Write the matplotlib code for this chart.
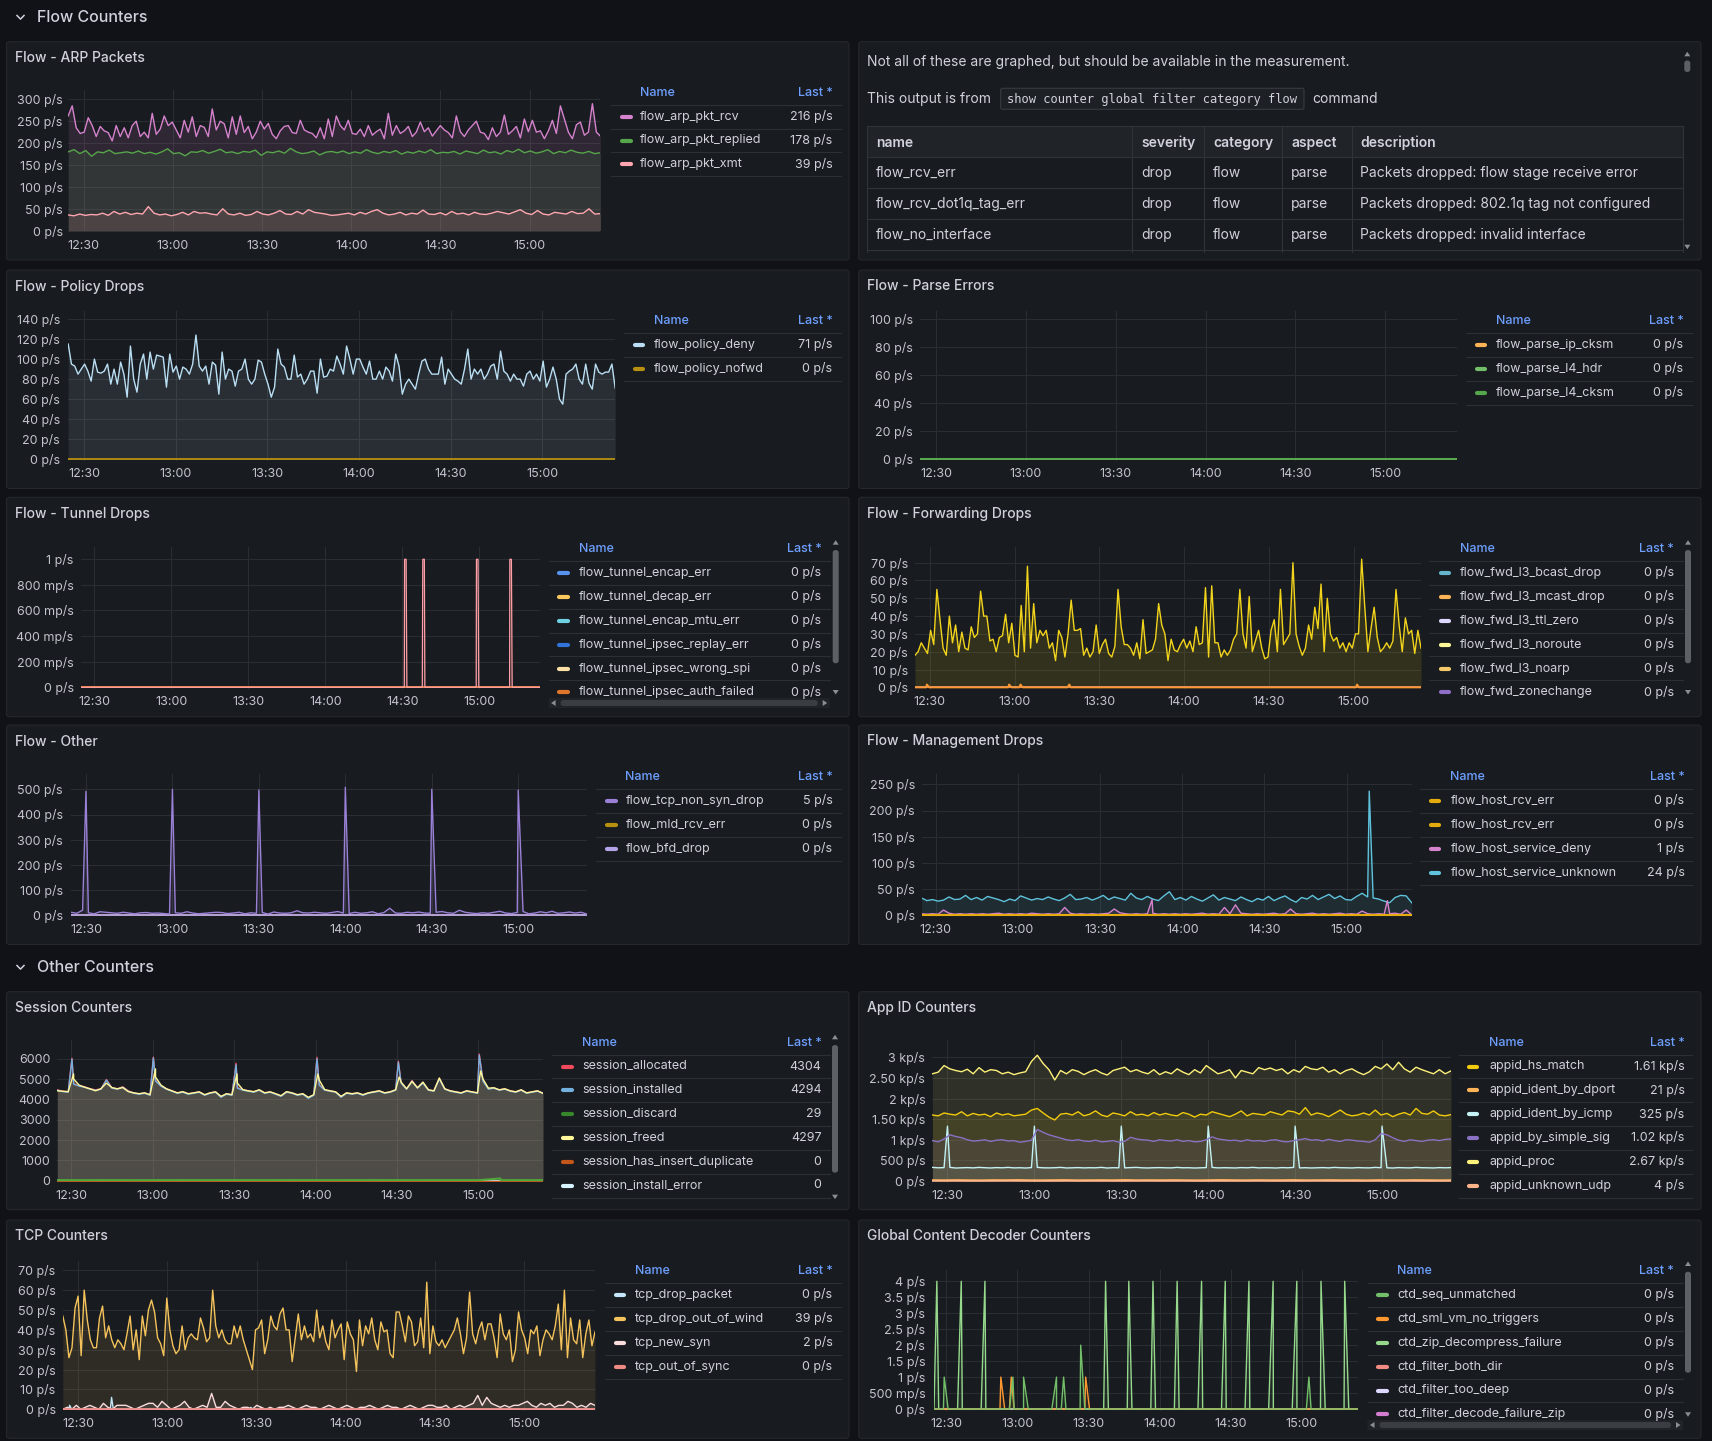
import numpy as np
import matplotlib
matplotlib.use("Agg")
import matplotlib.pyplot as plt  # noqa: E402
from matplotlib.lines import Line2D  # noqa: E402
from matplotlib.patches import FancyBboxPatch, Polygon  # noqa: E402

# ---------------------------------------------------------------- time axis
# minutes after 12:00
T0, T1 = 24.8, 203.8
TIME_TICKS = [30, 60, 90, 120, 150, 180]
TIME_LABELS = ["12:30", "13:00", "13:30", "14:00", "14:30", "15:00"]

# ---------------------------------------------------------------- ARP packets
ARP_NAMES = ["flow_arp_pkt_rcv", "flow_arp_pkt_replied", "flow_arp_pkt_xmt"]
ARP_LAST = ["216 p/s", "178 p/s", "39 p/s"]
ARP_TICKS = [0, 50, 100, 150, 200, 250, 300]
ARP_LABELS = ["0 p/s", "50 p/s", "100 p/s", "150 p/s", "200 p/s", "250 p/s", "300 p/s"]
arp_rcv = [262, 285, 235, 222, 225, 258, 240, 215, 238, 228, 224, 205, 240, 215, 235, 212,
           240, 250, 215, 225, 212, 268, 220, 232, 262, 240, 248, 230, 212, 252, 225, 260,
           215, 240, 236, 215, 278, 230, 250, 244, 212, 260, 220, 262, 224, 238, 210, 225,
           250, 232, 245, 220, 210, 228, 238, 240, 224, 222, 252, 230, 225, 222, 212, 235,
           210, 255, 215, 262, 240, 230, 252, 222, 220, 232, 215, 240, 218, 226, 232, 210,
           268, 218, 240, 222, 228, 238, 215, 225, 248, 226, 235, 216, 228, 240, 230, 224,
           212, 262, 226, 215, 230, 240, 250, 225, 222, 208, 235, 215, 225, 264, 220, 228,
           238, 212, 255, 226, 252, 225, 228, 210, 228, 252, 222, 285, 255, 225, 210, 242,
           248, 218, 225, 290, 225, 216]
arp_replied = [180, 185, 176, 183, 170, 180, 178, 184, 176, 178, 180, 177, 182, 176, 179,
               175, 180, 187, 176, 178, 171, 180, 179, 183, 177, 181, 186, 178, 180, 176,
               181, 179, 184, 172, 180, 178, 182, 177, 188, 180, 176, 178, 182, 173, 179,
               181, 178, 182, 176, 180, 177, 185, 179, 176, 181, 178, 183, 175, 180, 177,
               182, 178, 185, 176, 179, 178, 181, 175, 182, 179, 176, 184, 178, 180, 175,
               183, 179, 186, 178, 182, 177, 180, 185, 176, 181, 178, 184, 179, 177, 181,
               176, 178]
arp_xmt = [36, 34, 38, 35, 37, 36, 40, 35, 44, 38, 42, 37, 40, 38, 55, 40, 36, 38, 34, 37,
           42, 36, 44, 40, 41, 38, 36, 50, 38, 36, 40, 35, 37, 44, 38, 36, 40, 46, 38, 37,
           44, 38, 48, 42, 40, 38, 35, 36, 38, 40, 36, 42, 38, 44, 48, 40, 36, 38, 42, 36,
           40, 38, 47, 38, 37, 41, 36, 44, 38, 40, 36, 42, 38, 37, 40, 44, 41, 38, 43, 48,
           40, 37, 46, 38, 36, 42, 40, 38, 44, 39, 40, 50, 38, 39]

# ---------------------------------------------------------------- text panel
NOTE_LINE = "Not all of these are graphed, but should be available in the measurement."
NOTE_PREFIX = "This output is from"
NOTE_CODE = "show counter global filter category flow"
NOTE_SUFFIX = "command"
TABLE_HEAD = ["name", "severity", "category", "aspect", "description"]
TABLE_ROWS = [
    ["flow_rcv_err", "drop", "flow", "parse", "Packets dropped: flow stage receive error"],
    ["flow_rcv_dot1q_tag_err", "drop", "flow", "parse", "Packets dropped: 802.1q tag not configured"],
    ["flow_no_interface", "drop", "flow", "parse", "Packets dropped: invalid interface"],
]

# ---------------------------------------------------------------- policy drops
POLICY_NAMES = ["flow_policy_deny", "flow_policy_nofwd"]
POLICY_LAST = ["71 p/s", "0 p/s"]
POLICY_TICKS = [0, 20, 40, 60, 80, 100, 120, 140]
POLICY_LABELS = ["0 p/s", "20 p/s", "40 p/s", "60 p/s", "80 p/s", "100 p/s", "120 p/s", "140 p/s"]
policy_deny = [115, 95, 93, 85, 90, 95, 88, 78, 100, 87, 86, 88, 95, 75, 90, 75, 97, 85, 62,
               113, 80, 67, 95, 105, 80, 107, 90, 104, 103, 102, 72, 105, 87, 93, 80, 92, 90,
               85, 95, 124, 93, 88, 93, 75, 97, 94, 65, 107, 80, 90, 88, 73, 88, 90, 100, 80,
               75, 80, 99, 97, 85, 75, 62, 72, 110, 95, 92, 80, 80, 104, 82, 85, 75, 80, 88,
               88, 66, 100, 82, 83, 90, 88, 103, 95, 85, 113, 100, 85, 100, 100, 92, 85, 98,
               80, 80, 88, 80, 92, 88, 78, 105, 93, 65, 75, 80, 75, 70, 85, 98, 100, 90, 85,
               85, 85, 102, 75, 90, 85, 80, 78, 75, 90, 110, 80, 90, 85, 90, 80, 85, 93, 95,
               80, 108, 88, 85, 78, 85, 80, 80, 73, 85, 88, 80, 85, 78, 98, 72, 80, 92, 80,
               60, 55, 85, 88, 90, 95, 80, 75, 95, 76, 70, 95, 87, 85, 87, 87, 95, 71]
policy_nofwd = [0, 0]

# ---------------------------------------------------------------- parse errors
PARSE_NAMES = ["flow_parse_ip_cksm", "flow_parse_l4_hdr", "flow_parse_l4_cksm"]
PARSE_LAST = ["0 p/s", "0 p/s", "0 p/s"]
PARSE_TICKS = [0, 20, 40, 60, 80, 100]
PARSE_LABELS = ["0 p/s", "20 p/s", "40 p/s", "60 p/s", "80 p/s", "100 p/s"]
parse_zero = [0, 0]

# ---------------------------------------------------------------- tunnel drops
TUNNEL_NAMES = ["flow_tunnel_encap_err", "flow_tunnel_decap_err", "flow_tunnel_encap_mtu_err",
                "flow_tunnel_ipsec_replay_err", "flow_tunnel_ipsec_wrong_spi",
                "flow_tunnel_ipsec_auth_failed"]
TUNNEL_LAST = ["0 p/s"] * 6
TUNNEL_TICKS = [0, 0.2, 0.4, 0.6, 0.8, 1.0]
TUNNEL_LABELS = ["0 p/s", "200 mp/s", "400 mp/s", "600 mp/s", "800 mp/s", "1 p/s"]
tunnel_zero = [0, 0]
tunnel_hidden_t = [150.9, 151.5, 158.0, 158.6, 178.9, 179.5, 191.9, 192.5]
tunnel_hidden_v = [1, 1, 1, 1, 1, 1, 1, 1]

# ---------------------------------------------------------------- forwarding drops
FWD_NAMES = ["flow_fwd_l3_bcast_drop", "flow_fwd_l3_mcast_drop", "flow_fwd_l3_ttl_zero",
             "flow_fwd_l3_noroute", "flow_fwd_l3_noarp", "flow_fwd_zonechange"]
FWD_LAST = ["0 p/s"] * 6
FWD_TICKS = [0, 10, 20, 30, 40, 50, 60, 70]
FWD_LABELS = ["0 p/s", "10 p/s", "20 p/s", "30 p/s", "40 p/s", "50 p/s", "60 p/s", "70 p/s"]
fwd_hidden = [18, 20, 25, 22, 19, 32, 24, 55, 38, 22, 18, 40, 25, 35, 20, 31, 22, 21, 34, 28,
              30, 54, 40, 40, 26, 27, 20, 28, 29, 41, 25, 36, 18, 17, 46, 20, 68, 22, 47, 25,
              32, 29, 32, 22, 25, 15, 32, 28, 17, 30, 49, 32, 32, 33, 18, 22, 17, 20, 35, 19,
              24, 27, 19, 17, 23, 55, 34, 24, 24, 22, 18, 25, 16, 38, 19, 20, 21, 27, 47, 35,
              30, 15, 27, 21, 20, 24, 27, 22, 26, 20, 34, 24, 25, 56, 17, 57, 25, 25, 17, 21,
              18, 21, 27, 30, 55, 30, 22, 51, 20, 26, 32, 22, 16, 17, 32, 38, 20, 55, 24, 27,
              30, 70, 30, 23, 18, 22, 35, 27, 45, 33, 58, 20, 50, 30, 26, 28, 22, 25, 20, 25,
              22, 30, 30, 72, 45, 20, 33, 45, 28, 20, 22, 25, 22, 26, 55, 35, 20, 39, 30, 32,
              19, 32, 22]
fwd_zero = [0, 0]
fwd_mcast_t = [29.0, 58.1, 62.1, 79.4, 181.2]
fwd_mcast_v = [1.5, 1.5, 1.5, 1.5, 1.5]

# ---------------------------------------------------------------- other
OTHER_NAMES = ["flow_tcp_non_syn_drop", "flow_mld_rcv_err", "flow_bfd_drop"]
OTHER_LAST = ["5 p/s", "0 p/s", "0 p/s"]
OTHER_TICKS = [0, 100, 200, 300, 400, 500]
OTHER_LABELS = ["0 p/s", "100 p/s", "200 p/s", "300 p/s", "400 p/s", "500 p/s"]
other_syn = [12, 8, 20, 10, 6, 14, 12, 10, 8, 12, 9, 6, 10, 11, 8, 9, 7, 5, 10, 8, 14, 9, 6,
             8, 10, 12, 11, 7, 9, 12, 6, 10, 8, 11, 5, 13, 9, 8, 10, 18, 10, 9, 12, 10, 8, 11,
             15, 9, 7, 12, 8, 10, 14, 6, 11, 28, 9, 8, 12, 10, 13, 9, 8, 12, 15, 10, 8, 20,
             12, 9, 7, 10, 8, 12, 16, 9, 7, 11, 15, 6, 9, 14, 10, 16, 8, 10, 13, 9, 12, 5]
other_spike_t = [30.0, 60.0, 90.0, 120.0, 150.0, 180.0]
other_spike_v = [492, 500, 497, 508, 500, 497]
other_zero = [0, 0]

# ---------------------------------------------------------------- management drops
MGMT_NAMES = ["flow_host_rcv_err", "flow_host_rcv_err", "flow_host_service_deny",
              "flow_host_service_unknown"]
MGMT_LAST = ["0 p/s", "0 p/s", "1 p/s", "24 p/s"]
MGMT_TICKS = [0, 50, 100, 150, 200, 250]
MGMT_LABELS = ["0 p/s", "50 p/s", "100 p/s", "150 p/s", "200 p/s", "250 p/s"]
mgmt_zero = [0, 0]
mgmt_deny = [3, 2, 3, 2, 10, 4, 2, 3, 2, 3, 2, 3, 2, 3, 4, 2, 3, 2, 3, 2, 4, 3, 2, 3, 2, 3,
             15, 4, 2, 3, 2, 3, 2, 3, 4, 12, 5, 3, 2, 3, 2, 3, 4, 2, 3, 2, 3, 2, 3, 2, 3, 4,
             2, 3, 2, 15, 3, 20, 4, 3, 2, 3, 2, 3, 4, 2, 3, 12, 3, 2, 3, 4, 2, 3, 2, 3, 4, 2,
             3, 2, 8, 3, 2, 3, 2, 3, 4, 2, 10, 1]
mgmt_deny_spike_t = [109.0, 194.9]
mgmt_deny_spike_v = [30, 28]
mgmt_unknown = [33, 28, 30, 27, 29, 35, 30, 31, 38, 30, 34, 29, 36, 33, 30, 26, 31, 28, 37,
                33, 29, 32, 30, 35, 31, 28, 33, 40, 30, 31, 34, 29, 33, 38, 30, 35, 32, 29,
                42, 33, 30, 36, 31, 28, 37, 45, 30, 34, 29, 36, 31, 27, 33, 39, 29, 34, 31,
                28, 35, 30, 26, 32, 29, 36, 28, 33, 37, 30, 25, 34, 31, 38, 30, 35, 40, 32,
                37, 30, 29, 36, 42, 35, 33, 31, 27, 24, 34, 38, 37, 24]
mgmt_unknown_spike_t = [188.3]
mgmt_unknown_spike_v = [237]

# ---------------------------------------------------------------- session counters
SESSION_NAMES = ["session_allocated", "session_installed", "session_discard", "session_freed",
                 "session_has_insert_duplicate", "session_install_error"]
SESSION_LAST = ["4304", "4294", "29", "4297", "0", "0"]
SESSION_TICKS = [0, 1000, 2000, 3000, 4000, 5000, 6000]
SESSION_LABELS = ["0", "1000", "2000", "3000", "4000", "5000", "6000"]
session_allocated = [4470, 4400, 4370, 4770, 4670, 4620, 4520, 4470, 4520, 4980, 4570, 4520,
                     4620, 4420, 4320, 4270, 4320, 4220, 4930, 4670, 4520, 4420, 4320, 4370,
                     4270, 4320, 4370, 4220, 4320, 4370, 4120, 4270, 4220, 4580, 4470, 4420,
                     4370, 4470, 4320, 4370, 4270, 4170, 4370, 4320, 4220, 4270, 4080, 4220,
                     4730, 4470, 4420, 4370, 4120, 4320, 4270, 4320, 4220, 4320, 4370, 4420,
                     4320, 4370, 4470, 4830, 4520, 4930, 4570, 4830, 4470, 4420, 5030, 4520,
                     4420, 4370, 4320, 4420, 4370, 4320, 4930, 4520, 4570, 4470, 4520, 4420,
                     4370, 4470, 4320, 4370, 4420, 4304]
session_allocated_spike_t = [30.2, 60.2, 90.7, 120.5, 150.5, 180.3]
session_allocated_spike_v = [6020, 6080, 5780, 6070, 5880, 6230]
session_installed = [4450, 4380, 4350, 4750, 4650, 4600, 4500, 4450, 4500, 4950, 4550, 4500,
                     4600, 4400, 4300, 4250, 4300, 4200, 4900, 4650, 4500, 4400, 4300, 4350,
                     4250, 4300, 4350, 4200, 4300, 4350, 4100, 4250, 4200, 4550, 4450, 4400,
                     4350, 4450, 4300, 4350, 4250, 4150, 4350, 4300, 4200, 4250, 4050, 4200,
                     4700, 4450, 4400, 4350, 4100, 4300, 4250, 4300, 4200, 4300, 4350, 4400,
                     4300, 4350, 4450, 4800, 4500, 4900, 4550, 4800, 4450, 4400, 5000, 4500,
                     4400, 4350, 4300, 4400, 4350, 4300, 4900, 4500, 4550, 4450, 4500, 4400,
                     4350, 4450, 4300, 4350, 4400, 4294]
session_installed_spike_t = [30.2, 60.2, 90.7, 120.5, 150.5, 180.3]
session_installed_spike_v = [5980, 6040, 5700, 6000, 5830, 6180]
session_discard = [30, 29, 31, 30, 28, 30, 31, 29, 30, 30, 29, 31, 30, 29, 30, 31, 30, 29,
                   30, 30, 31, 29, 30, 29]
session_discard_spike_t = [188.1]
session_discard_spike_v = [110]
session_freed = [4420, 4400, 4380, 5000, 4700, 4600, 4520, 4420, 4520, 4800, 4580, 4520, 4580,
                 4380, 4320, 4280, 4320, 4230, 5100, 4700, 4520, 4420, 4320, 4380, 4280, 4320,
                 4370, 4230, 4320, 4370, 4150, 4280, 4230, 4800, 4480, 4420, 4380, 4470, 4320,
                 4370, 4280, 4180, 4380, 4320, 4230, 4280, 4100, 4230, 4950, 4480, 4420, 4370,
                 4150, 4320, 4280, 4320, 4230, 4320, 4370, 4420, 4320, 4370, 4470, 4850, 4520,
                 4880, 4570, 4850, 4470, 4420, 5050, 4520, 4420, 4370, 4320, 4420, 4370, 4320,
                 5000, 4550, 4570, 4470, 4520, 4420, 4370, 4470, 4320, 4370, 4420, 4297]
session_freed_spike_t = [30.8, 61.0, 91.0, 120.8, 150.8, 180.8]
session_freed_spike_v = [5250, 5500, 5250, 5250, 5100, 5400]
session_zero = [0, 0]

# ---------------------------------------------------------------- app id counters
APP_NAMES = ["appid_hs_match", "appid_ident_by_dport", "appid_ident_by_icmp",
             "appid_by_simple_sig", "appid_proc", "appid_unknown_udp"]
APP_LAST = ["1.61 kp/s", "21 p/s", "325 p/s", "1.02 kp/s", "2.67 kp/s", "4 p/s"]
APP_TICKS = [0, 500, 1000, 1500, 2000, 2500, 3000]
APP_LABELS = ["0 p/s", "500 p/s", "1 kp/s", "1.50 kp/s", "2 kp/s", "2.50 kp/s", "3 kp/s"]
app_hs_match = [1600, 1580, 1650, 1620, 1600, 1680, 1580, 1640, 1600, 1620, 1560, 1650, 1600,
                1630, 1580, 1600, 1620, 1720, 1760, 1650, 1550, 1480, 1620, 1640, 1600, 1680,
                1580, 1620, 1700, 1600, 1560, 1650, 1620, 1580, 1680, 1600, 1620, 1580, 1660,
                1600, 1640, 1600, 1580, 1660, 1620, 1550, 1620, 1600, 1680, 1640, 1600, 1560,
                1620, 1700, 1580, 1640, 1620, 1600, 1680, 1640, 1600, 1700, 1680, 1620, 1780,
                1600, 1650, 1620, 1560, 1640, 1720, 1620, 1580, 1600, 1650, 1600, 1720, 1600,
                1640, 1560, 1620, 1660, 1600, 1760, 1640, 1620, 1700, 1600, 1580, 1610]
app_dport = [22, 19, 24, 20, 18, 23, 21, 26, 20, 19, 22, 25, 18, 21, 23, 20, 27, 19, 22, 21,
             24, 20, 18, 22, 26, 21, 19, 23, 20, 22, 25, 19, 21, 24, 20, 22, 18, 23, 21, 20,
             24, 22, 19, 21]
app_icmp = [330, 320, 325, 330, 315, 320, 325, 318, 330, 322, 316, 325, 320, 330, 318, 322,
            315, 325, 330, 320, 318, 322, 330, 316, 320, 325, 318, 322, 320, 330, 315, 322,
            320, 318, 325, 330, 320, 316, 322, 325, 320, 318, 330, 320, 322, 315, 320, 325,
            330, 318, 322, 320, 316, 325, 320, 330, 318, 322, 320, 315, 325, 320, 330, 318,
            322, 316, 320, 325, 318, 330, 322, 320, 316, 325, 320, 318, 330, 322, 320, 315,
            325, 320, 318, 330, 322, 320, 316, 325, 320, 325]
app_icmp_spike_t = [30.0, 60.0, 90.0, 120.0, 150.0, 180.0]
app_icmp_spike_v = [1330, 1330, 1330, 1330, 1330, 1330]
app_simple_sig = [980, 950, 1020, 1120, 1080, 1050, 1000, 970, 980, 1000, 960, 990, 1000, 970,
                  980, 940, 960, 990, 1250, 1180, 1120, 1080, 1040, 1000, 980, 1000, 970, 960,
                  990, 950, 960, 980, 940, 960, 1060, 1020, 1000, 990, 960, 1000, 980, 970,
                  1000, 960, 980, 950, 960, 1000, 1070, 1020, 1000, 980, 990, 960, 1000, 970,
                  980, 960, 990, 1000, 960, 950, 980, 1000, 1030, 990, 1000, 970, 1010, 980,
                  960, 1000, 990, 970, 960, 940, 1000, 1150, 1120, 1050, 990, 960, 1000, 980,
                  960, 990, 1000, 980, 1010, 1020]
app_proc = [2600, 2640, 2800, 2720, 2680, 2650, 2710, 2600, 2750, 2640, 2700, 2680, 2600, 2640,
            2580, 2620, 2650, 2900, 3050, 2850, 2700, 2450, 2680, 2600, 2700, 2660, 2580, 2650,
            2700, 2620, 2570, 2680, 2720, 2760, 2650, 2700, 2640, 2600, 2700, 2580, 2650, 2600,
            2720, 2640, 2580, 2700, 2620, 2800, 2700, 2600, 2640, 2700, 2500, 2680, 2640, 2600,
            2750, 2700, 2740, 2680, 2720, 2600, 2700, 2640, 2780, 2720, 2700, 2760, 2640, 2700,
            2600, 2680, 2720, 2640, 2580, 2650, 2780, 2720, 2840, 2700, 2880, 2720, 2640, 2760,
            2700, 2650, 2600, 2700, 2600, 2670]
app_udp = [4, 5, 3, 4, 6, 4, 3, 5, 4, 4, 3, 6, 4, 5, 3, 4, 4, 5, 3, 4, 6, 4, 3, 4, 5, 4, 3, 4]

# ---------------------------------------------------------------- tcp counters
TCP_NAMES = ["tcp_drop_packet", "tcp_drop_out_of_wind", "tcp_new_syn", "tcp_out_of_sync"]
TCP_LAST = ["0 p/s", "39 p/s", "2 p/s", "0 p/s"]
TCP_TICKS = [0, 10, 20, 30, 40, 50, 60, 70]
TCP_LABELS = ["0 p/s", "10 p/s", "20 p/s", "30 p/s", "40 p/s", "50 p/s", "60 p/s", "70 p/s"]
tcp_drop_t = [27.1, 41.2, 88.0, 91.5]
tcp_drop_v = [2, 6, 1, 1]
tcp_out_of_wind = [47, 40, 26, 31, 51, 57, 27, 60, 45, 35, 31, 31, 46, 52, 36, 42, 35, 31, 35,
                   33, 30, 38, 47, 30, 40, 25, 47, 37, 50, 55, 49, 36, 33, 27, 56, 40, 32, 28,
                   30, 42, 30, 36, 38, 36, 35, 46, 41, 34, 36, 60, 42, 36, 40, 35, 33, 33, 42,
                   36, 42, 35, 30, 25, 20, 40, 41, 45, 28, 35, 47, 42, 40, 48, 51, 40, 40, 24,
                   36, 48, 35, 42, 36, 38, 34, 50, 36, 42, 34, 30, 45, 36, 40, 43, 25, 44, 38,
                   35, 19, 45, 32, 42, 38, 46, 35, 30, 44, 39, 40, 28, 26, 49, 49, 42, 34, 47,
                   44, 32, 34, 46, 31, 64, 28, 42, 34, 32, 35, 31, 34, 37, 40, 46, 38, 28, 36,
                   59, 38, 33, 40, 44, 35, 43, 43, 36, 26, 48, 38, 35, 40, 24, 30, 49, 40, 36,
                   28, 40, 38, 42, 27, 35, 40, 38, 35, 42, 53, 30, 60, 26, 46, 35, 33, 45, 26,
                   38, 45, 32, 39]
tcp_new_syn = [0, 1, 0, 2, 0, 1, 2, 1, 0, 3, 1, 0, 2, 2, 2, 1, 0, 1, 2, 3, 3, 1, 4, 2, 0, 1,
               2, 4, 1, 0, 1, 2, 1, 8, 1, 1, 4, 2, 1, 0, 1, 1, 0, 2, 1, 0, 1, 0, 1, 1, 2, 1, 0,
               1, 2, 1, 1, 0, 1, 2, 1, 0, 1, 2, 1, 0, 1, 1, 2, 1, 0, 1, 2, 1, 1, 0, 1, 2, 1, 0,
               1, 2, 2, 1, 1, 2, 0, 1, 2, 1, 2, 3, 7, 2, 6, 3, 2, 1, 2, 1, 2, 2, 3, 4, 2, 1, 3,
               2, 3, 1, 2, 2, 4, 3, 1, 2, 1, 3, 2]
tcp_zero = [0, 0]

# ---------------------------------------------------------------- content decoder
CTD_NAMES = ["ctd_seq_unmatched", "ctd_sml_vm_no_triggers", "ctd_zip_decompress_failure",
             "ctd_filter_both_dir", "ctd_filter_too_deep", "ctd_filter_decode_failure_zip"]
CTD_LAST = ["0 p/s"] * 6
CTD_TICKS = [0, 0.5, 1, 1.5, 2, 2.5, 3, 3.5, 4]
CTD_LABELS = ["0 p/s", "500 mp/s", "1 p/s", "1.5 p/s", "2 p/s", "2.5 p/s", "3 p/s",
              "3.5 p/s", "4 p/s"]
ctd_seq_t = [29.1, 58.1, 62.6, 76.5, 79.5, 86.7, 183.0]
ctd_seq_v = [1, 1, 1, 1, 1, 2, 1]
ctd_sml_t = [53.0, 57.4, 88.8]
ctd_sml_v = [1, 1, 1]
ctd_zip_t = [26.0, 36.3, 46.3, 97.2, 107.0, 117.2, 127.4, 137.7, 147.7, 157.7, 167.9, 177.9,
             188.1, 198.1]
ctd_zip_v = [4] * 14
ctd_zero = [0, 0]

# ---------------------------------------------------------------- style
W, H = 1712, 1441
BG = "#111217"
PANEL = "#181b1f"
BORDER = "#24272c"
GRID = "#2a2d32"
SEP = "#2c2f34"
TEXT = "#d0d1dc"
TICK = "#c3c4cf"
LINK = "#6e9fff"
THUMB = "#5d6065"

plt.rcParams["font.family"] = ["Inter", "DejaVu Sans"]
fig = plt.figure(figsize=(W / 100, H / 100), dpi=100)
fig.patch.set_facecolor(BG)


def fx(x):
    return x / W


def fy(y):
    return 1 - y / H


def label(x, y, s, size=9, color=TEXT, **kw):
    kw.setdefault("va", "center")
    fig.text(fx(x), fy(y), s, fontsize=size, color=color, **kw)


def hline(x0, x1, y, color=SEP, lw=0.8):
    fig.add_artist(Line2D([fx(x0), fx(x1)], [fy(y), fy(y)], color=color, lw=lw))


def vline(x, y0, y1, color=SEP, lw=0.8):
    fig.add_artist(Line2D([fx(x), fx(x)], [fy(y0), fy(y1)], color=color, lw=lw))


def box(x0, y0, x1, y1, fc, ec="none", lw=0.8, r=3, z=1):
    fig.add_artist(FancyBboxPatch(
        (fx(x0), fy(y1)), fx(x1) - fx(x0), fy(y0) - fy(y1),
        boxstyle=f"round,pad=0,rounding_size={r / W}",
        transform=fig.transFigure, fc=fc, ec=ec, lw=lw, zorder=z))


def tri(x, y, d, color="#8b8e94"):
    pts = {"up": [(x - 3, y + 2), (x + 3, y + 2), (x, y - 2.5)],
           "down": [(x - 3, y - 2), (x + 3, y - 2), (x, y + 2.5)],
           "left": [(x + 2, y - 3), (x + 2, y + 3), (x - 2.5, y)],
           "right": [(x - 2, y - 3), (x - 2, y + 3), (x + 2.5, y)]}[d]
    fig.add_artist(Polygon([(fx(a), fy(b)) for a, b in pts], closed=True,
                           transform=fig.transFigure, fc=color, ec="none"))


def vscroll(x, y_up, y_dn, th0, th1):
    tri(x, y_up, "up")
    tri(x, y_dn, "down")
    box(x - 3, th0, x + 3, th1, THUMB, r=3)


def hscroll(x0, x1, y):
    box(x0, y - 5, x1, y + 5, "#202327", r=0)
    box(x0 + 12, y - 3, x1 - 12, y + 3, "#3a3d42", r=3)
    tri(x0 + 5, y, "left")
    tri(x1 - 5, y, "right")


def panel(x0, y0, x1, y1, title=None):
    # drawn beneath the axes
    box(x0, y0, x1, y1, PANEL, BORDER, 0.8, 3, z=-2)
    if title:
        label(x0 + 8.5, y0 + 16.5, title, size=10, weight=500)


def section(y, title):
    fig.add_artist(Line2D([fx(17), fx(20.5), fx(24)], [fy(y - 1.8), fy(y + 1.8), fy(y - 1.8)],
                          color=TEXT, lw=1.1))
    label(36.6, y, title, size=11.5, weight=500)


def ts_axes(x0, x1, ya, y0, yt, vt, ticks, labels, lab_r):
    yb = y0 + 1.5
    k = vt / (y0 - yt)
    ax = fig.add_axes([fx(x0), fy(yb), (x1 - x0) / W, (yb - ya) / H])
    ax.set_xlim(T0, T1)
    ax.set_ylim(-(yb - y0) * k, (y0 - ya) * k)
    ax.set_facecolor("none")
    for sp in ax.spines.values():
        sp.set_visible(False)
    ax.set_xticks(TIME_TICKS, TIME_LABELS)
    ax.set_yticks(ticks, labels)
    ax.tick_params(length=0, labelsize=9, labelcolor=TICK)
    ax.tick_params(axis="y", pad=(x0 - lab_r) * 0.72)
    ax.tick_params(axis="x", pad=5.5)
    ax.grid(True, color=GRID, lw=0.75)
    ax.set_axisbelow(True)
    return ax


def span(v):
    return np.linspace(T0, T1, len(v)), np.asarray(v, float)


def with_spikes(base, st, sv):
    t = np.concatenate([np.linspace(T0, T1, len(base)), st])
    v = np.concatenate([np.asarray(base, float), np.asarray(sv, float)])
    o = np.argsort(t, kind="stable")
    return t[o], v[o]


def pulses(st, sv, step):
    n = int(round((T1 - T0) / step)) + 1
    return with_spikes(np.zeros(n), st, sv)


def draw(ax, tv, color, fill=0.1, lw=1.0):
    t, v = tv
    if fill:
        ax.fill_between(t, 0, v, color=color, alpha=fill, lw=0)
    ax.plot(t, v, color=color, lw=lw, solid_joinstyle="round")


def legend(xl, xr, name_x, val_r, sw_x, head_y, names, colors, lasts, last_sep=True,
           pitch=23.9):
    label(name_x, head_y, "Name", color=LINK, weight=500)
    label(val_r, head_y, "Last *", color=LINK, ha="right", weight=500)
    for i, (n, c, v) in enumerate(zip(names, colors, lasts)):
        yy = head_y + pitch * (i + 1)
        hline(xl, xr, yy - 12)
        fig.add_artist(Line2D([fx(sw_x + 2.5), fx(sw_x + 11)], [fy(yy), fy(yy)], color=c,
                              lw=3.0, solid_capstyle="round"))
        label(name_x, yy, n)
        label(val_r, yy, v, ha="right")
    if last_sep:
        hline(xl, xr, head_y + pitch * len(names) + 12)


# ================================================================ sections
section(17.3, "Flow Counters")
section(967.3, "Other Counters")

# ---------------------------------------------------------------- ARP
panel(6.5, 41.7, 849, 260, "Flow - ARP Packets")
ARP_COLORS = ["#d683ce", "#56a64b", "#ffa6b0"]
ax = ts_axes(68.2, 600.4, 90, 230.7, 99.3, 300, ARP_TICKS, ARP_LABELS, 62.8)
for vals, c in zip([arp_rcv, arp_replied, arp_xmt], ARP_COLORS):
    draw(ax, span(vals), c, fill=0.12)
legend(611, 840.6, 640, 832.4, 619.5, 92.7, ARP_NAMES, ARP_COLORS, ARP_LAST)

# ---------------------------------------------------------------- text panel
panel(858.7, 41.7, 1701, 260)
label(867, 61.7, NOTE_LINE, size=10)
label(867, 99.3, NOTE_PREFIX, size=10)
box(1000.7, 88.3, 1304, 109.3, "#1d2025", "#383b41", 0.8, r=2)
label(1006.7, 99.5, NOTE_CODE, size=8.7, family="DejaVu Sans Mono")
label(1311.8, 99.3, NOTE_SUFFIX, size=10)
box(867, 126, 1683, 157.3, "#202328", r=0)
col_x = [876.2, 1141, 1213, 1291, 1360.4]
for cx, s in zip(col_x, TABLE_HEAD):
    label(cx, 142.7, s, size=10, weight=600)
for r, row in enumerate(TABLE_ROWS):
    for cx, s in zip(col_x, row):
        label(cx, 173.3 + 31 * r, s, size=10)
for yy in [126, 157.3, 188.3, 219.3, 250]:
    hline(867, 1683, yy, "#30333a")
for xx in [867, 1132.2, 1204.3, 1282.3, 1352.2, 1683]:
    vline(xx, 126, 252, "#30333a")
vscroll(1687.3, 54.3, 246.7, 60.5, 72)

# ---------------------------------------------------------------- policy drops
panel(6.5, 270, 849, 488.5, "Flow - Policy Drops")
POLICY_COLORS = ["#badff4", "#b8900f"]
ax = ts_axes(68.2, 615.2, 310.7, 459.3, 319, 140, POLICY_TICKS, POLICY_LABELS, 60)
draw(ax, span(policy_deny), POLICY_COLORS[0])
draw(ax, span(policy_nofwd), POLICY_COLORS[1], fill=0, lw=1.3)
legend(624, 840.6, 654, 832.4, 632, 321, POLICY_NAMES, POLICY_COLORS, POLICY_LAST)

# ---------------------------------------------------------------- parse errors
panel(858.7, 270, 1701, 488.5, "Flow - Parse Errors")
PARSE_COLORS = ["#ffb357", "#73bf69", "#56a64b"]
ax = ts_axes(920.4, 1456.5, 310.7, 459.3, 319, 100, PARSE_TICKS, PARSE_LABELS, 912.7)
for c in PARSE_COLORS:
    draw(ax, span(parse_zero), c, fill=0, lw=1.3)
legend(1466, 1692, 1495.8, 1683.5, 1474, 321, PARSE_NAMES, PARSE_COLORS, PARSE_LAST)

# ---------------------------------------------------------------- tunnel drops
panel(6.5, 497.3, 849, 716.7, "Flow - Tunnel Drops")
TUNNEL_COLORS = ["#5794f2", "#f8c85c", "#6ed0e0", "#3274d9", "#fbe0a6", "#e0752d"]
ax = ts_axes(80.8, 540.4, 546.7, 687.3, 559.3, 1.0, TUNNEL_TICKS, TUNNEL_LABELS, 73.7)
for c in TUNNEL_COLORS:
    draw(ax, span(tunnel_zero), c, fill=0, lw=1.3)
draw(ax, pulses(tunnel_hidden_t, tunnel_hidden_v, 1.0), "#ff9ea6", fill=0.06, lw=0.9)
legend(548.6, 829.7, 578.6, 821.5, 556.8, 549, TUNNEL_NAMES, TUNNEL_COLORS, TUNNEL_LAST,
       last_sep=False, pitch=23.9)
vscroll(835.7, 542.7, 692, 550, 663.3)
hscroll(548.6, 829.7, 703)

# ---------------------------------------------------------------- forwarding drops
panel(858.7, 497.3, 1701, 716.7, "Flow - Forwarding Drops")
FWD_COLORS = ["#64b5cc", "#ffb357", "#ddd8ff", "#fff899", "#f5c96a", "#8f6fc8"]
ax = ts_axes(915, 1421, 546.7, 687.3, 562.7, 70, FWD_TICKS, FWD_LABELS, 907.9)
draw(ax, span(fwd_hidden), "#f2d41c", fill=0.12)
for c in [FWD_COLORS[i] for i in (0, 2, 3, 4, 5)]:
    draw(ax, span(fwd_zero), c, fill=0, lw=1.3)
draw(ax, pulses(fwd_mcast_t, fwd_mcast_v, 1.0), "#ff9830", fill=0, lw=1.5)
legend(1429, 1683, 1460.3, 1673.7, 1438.4, 549, FWD_NAMES, FWD_COLORS, FWD_LAST,
       last_sep=False)
vscroll(1688, 542.7, 692, 550, 663.3)

# ---------------------------------------------------------------- other
panel(6.5, 725, 849, 944.5, "Flow - Other")
OTHER_COLORS = ["#9a80d6", "#b8900f", "#b4a3e6"]
ax = ts_axes(71, 586.8, 774.3, 915.3, 789.3, 500, OTHER_TICKS, OTHER_LABELS, 62.8)
draw(ax, span(other_zero), OTHER_COLORS[1], fill=0, lw=1.3)
draw(ax, span(other_zero), OTHER_COLORS[2], fill=0, lw=1.3)
draw(ax, with_spikes(other_syn, other_spike_t, other_spike_v), OTHER_COLORS[0], fill=0.1)
legend(596, 840.6, 625.5, 832.4, 604.8, 777, OTHER_NAMES, OTHER_COLORS, OTHER_LAST)

# ---------------------------------------------------------------- management drops
panel(858.7, 725, 1701, 944.5, "Flow - Management Drops")
MGMT_COLORS = ["#e5ac0e", "#e5ac0e", "#d683ce", "#5fc3dd"]
ax = ts_axes(921.5, 1411.7, 774.3, 915.3, 784.3, 250, MGMT_TICKS, MGMT_LABELS, 915)
draw(ax, with_spikes(mgmt_unknown, mgmt_unknown_spike_t, mgmt_unknown_spike_v),
     MGMT_COLORS[3], fill=0.1)
draw(ax, with_spikes(mgmt_deny, mgmt_deny_spike_t, mgmt_deny_spike_v), MGMT_COLORS[2],
     fill=0.1)
draw(ax, span(mgmt_zero), MGMT_COLORS[0], fill=0, lw=1.5)
legend(1420, 1692, 1450.4, 1684.6, 1428, 777, MGMT_NAMES, MGMT_COLORS, MGMT_LAST)

# ---------------------------------------------------------------- session counters
panel(6.5, 991.7, 849, 1209.6, "Session Counters")
SESSION_COLORS = ["#f2495c", "#73b0de", "#37872d", "#fff899", "#c4561a", "#d6f4ff"]
ax = ts_axes(57.3, 543, 1040, 1180.7, 1058.7, 6000, SESSION_TICKS, SESSION_LABELS, 50.2)
draw(ax, with_spikes(session_allocated, session_allocated_spike_t, session_allocated_spike_v),
     SESSION_COLORS[0], fill=0.07)
draw(ax, with_spikes(session_installed, session_installed_spike_t, session_installed_spike_v),
     SESSION_COLORS[1], fill=0.12)
draw(ax, with_spikes(session_freed, session_freed_spike_t, session_freed_spike_v),
     SESSION_COLORS[3], fill=0.15)
draw(ax, span(session_zero), SESSION_COLORS[5], fill=0, lw=1.3)
draw(ax, span(session_zero), SESSION_COLORS[4], fill=0, lw=1.0)
draw(ax, with_spikes(session_discard, session_discard_spike_t, session_discard_spike_v),
     "#4fa63d", fill=0, lw=1.5)
legend(552.4, 829.7, 582.4, 821.5, 560.6, 1042.7, SESSION_NAMES, SESSION_COLORS, SESSION_LAST,
       pitch=23.8)
vscroll(835, 1037.3, 1196.7, 1045, 1172.7)

# ---------------------------------------------------------------- app id counters
panel(858.7, 991.7, 1701, 1209.6, "App ID Counters")
APP_COLORS = ["#f2cc0c", "#ffb357", "#c4f2f5", "#8a71c4", "#fff27a", "#ffb48a"]
ax = ts_axes(932.4, 1451, 1040, 1181, 1057.3, 3000, APP_TICKS, APP_LABELS, 925.3)
draw(ax, span(app_hs_match), APP_COLORS[0], fill=0.1)
draw(ax, span(app_dport), APP_COLORS[1], fill=0.1, lw=1.3)
draw(ax, with_spikes(app_icmp, app_icmp_spike_t, app_icmp_spike_v), APP_COLORS[2], fill=0.1)
draw(ax, span(app_simple_sig), APP_COLORS[3], fill=0.1)
draw(ax, span(app_proc), APP_COLORS[4], fill=0.1)
draw(ax, span(app_udp), APP_COLORS[5], fill=0.1, lw=1.3)
legend(1459, 1692, 1489.2, 1684.6, 1466.3, 1042.7, APP_NAMES, APP_COLORS, APP_LAST,
       pitch=23.8)

# ---------------------------------------------------------------- tcp counters
panel(6.5, 1220, 849, 1438.3, "TCP Counters")
TCP_COLORS = ["#c2e5f7", "#f4c35c", "#fbdcdc", "#ee8a84"]
ax = ts_axes(62.8, 595, 1261, 1409.3, 1270.3, 70, TCP_TICKS, TCP_LABELS, 55.7)
draw(ax, span(tcp_out_of_wind), TCP_COLORS[1], fill=0.1)
draw(ax, pulses(tcp_drop_t, tcp_drop_v, 1.0), TCP_COLORS[0], fill=0)
draw(ax, span(tcp_new_syn), TCP_COLORS[2], fill=0.1)
draw(ax, span(tcp_zero), TCP_COLORS[3], fill=0, lw=1.3)
legend(604.8, 840.6, 634.8, 832.4, 613, 1271, TCP_NAMES, TCP_COLORS, TCP_LAST)

# ---------------------------------------------------------------- content decoder
panel(858.7, 1220, 1701, 1438.3, "Global Content Decoder Counters")
CTD_COLORS = ["#73bf69", "#ff9830", "#96d98d", "#f28b82", "#ddd8ff", "#d27dd0"]
ax = ts_axes(934, 1358.2, 1270, 1409, 1281.3, 4, CTD_TICKS, CTD_LABELS, 925.3)
for c in [CTD_COLORS[i] for i in (3, 4, 5)]:
    draw(ax, span(ctd_zero), c, fill=0, lw=1.3)
draw(ax, pulses(ctd_zip_t, ctd_zip_v, 2.0), CTD_COLORS[2], fill=0.08)
draw(ax, pulses(ctd_sml_t, ctd_sml_v, 2.0), CTD_COLORS[1], fill=0.08)
draw(ax, pulses(ctd_seq_t, ctd_seq_v, 2.0), CTD_COLORS[0], fill=0.08)
legend(1367.5, 1683, 1397, 1673.7, 1375.7, 1271, CTD_NAMES, CTD_COLORS, CTD_LAST,
       last_sep=False)
vscroll(1688, 1264, 1414.3, 1271.7, 1372.7)
hscroll(1367.5, 1683, 1425)

fig.savefig("out.png", dpi=100, facecolor=BG)
